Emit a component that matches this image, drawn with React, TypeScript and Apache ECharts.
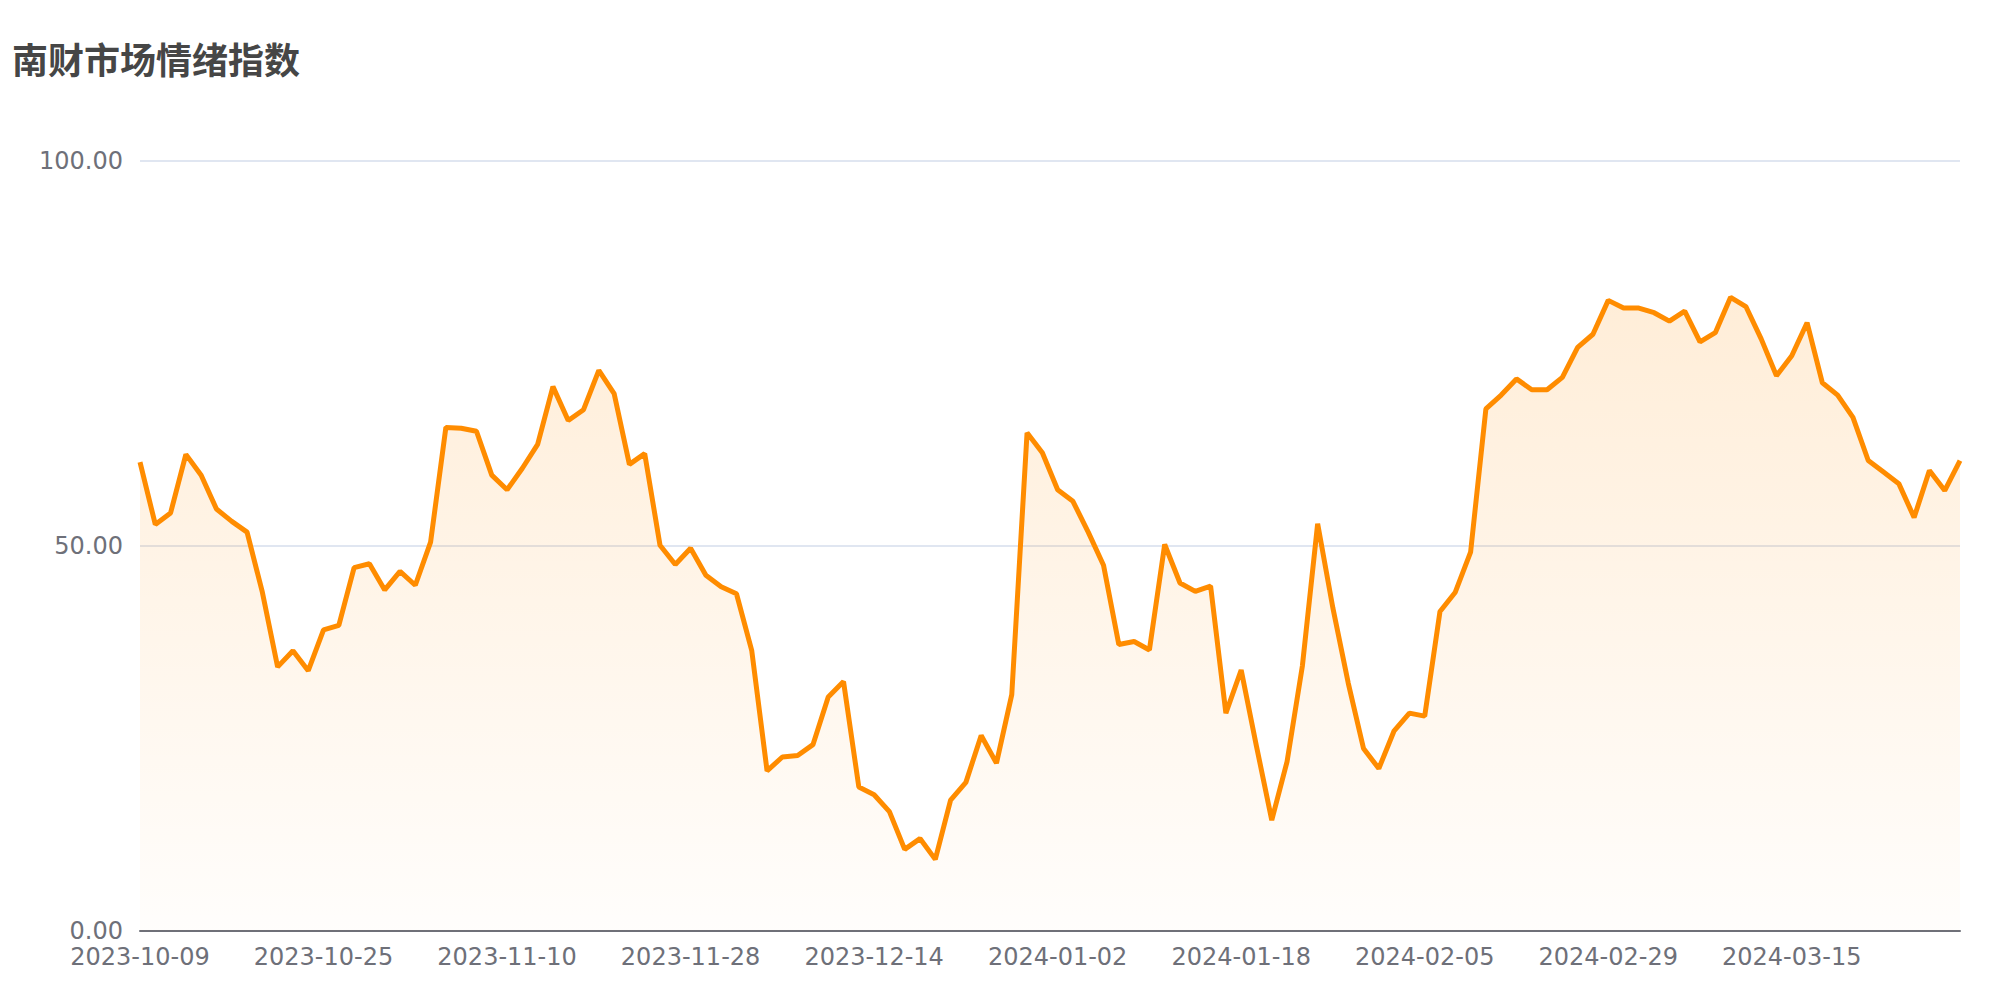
import React, { useEffect, useRef } from "react";
import * as echarts from "echarts";

const TITLE = "南财市场情绪指数";

const dates: string[] = [
  "2023-10-09", "2023-10-10", "2023-10-11", "2023-10-12", "2023-10-13", "2023-10-16", "2023-10-17", "2023-10-18",
  "2023-10-19", "2023-10-20", "2023-10-23", "2023-10-24", "2023-10-25", "2023-10-26", "2023-10-27", "2023-10-30",
  "2023-10-31", "2023-11-01", "2023-11-02", "2023-11-03", "2023-11-06", "2023-11-07", "2023-11-08", "2023-11-09",
  "2023-11-10", "2023-11-13", "2023-11-14", "2023-11-15", "2023-11-16", "2023-11-17", "2023-11-20", "2023-11-21",
  "2023-11-22", "2023-11-23", "2023-11-24", "2023-11-27", "2023-11-28", "2023-11-29", "2023-11-30", "2023-12-01",
  "2023-12-04", "2023-12-05", "2023-12-06", "2023-12-07", "2023-12-08", "2023-12-11", "2023-12-12", "2023-12-13",
  "2023-12-14", "2023-12-15", "2023-12-18", "2023-12-19", "2023-12-20", "2023-12-21", "2023-12-22", "2023-12-25",
  "2023-12-26", "2023-12-27", "2023-12-28", "2023-12-29", "2024-01-02", "2024-01-03", "2024-01-04", "2024-01-05",
  "2024-01-08", "2024-01-09", "2024-01-10", "2024-01-11", "2024-01-12", "2024-01-15", "2024-01-16", "2024-01-17",
  "2024-01-18", "2024-01-19", "2024-01-22", "2024-01-23", "2024-01-24", "2024-01-25", "2024-01-26", "2024-01-29",
  "2024-01-30", "2024-01-31", "2024-02-01", "2024-02-02", "2024-02-05", "2024-02-06", "2024-02-07", "2024-02-08",
  "2024-02-19", "2024-02-20", "2024-02-21", "2024-02-22", "2024-02-23", "2024-02-26", "2024-02-27", "2024-02-28",
  "2024-02-29", "2024-03-01", "2024-03-02", "2024-03-04", "2024-03-05", "2024-03-06", "2024-03-07", "2024-03-08",
  "2024-03-11", "2024-03-12", "2024-03-13", "2024-03-14", "2024-03-15", "2024-03-18", "2024-03-19", "2024-03-20",
  "2024-03-21", "2024-03-22", "2024-03-25", "2024-03-26", "2024-03-27", "2024-03-28", "2024-03-29", "2024-04-01",
];

const sentiment: number[] = [
  60.9, 52.8, 54.3, 61.9, 59.2, 54.8, 53.2, 51.8, 44.0, 34.3,
  36.4, 33.8, 39.1, 39.7, 47.2, 47.7, 44.3, 46.7, 44.9, 50.5,
  65.4, 65.3, 64.9, 59.2, 57.3, 60.1, 63.2, 70.7, 66.3, 67.7,
  72.8, 69.8, 60.6, 62.0, 50.1, 47.6, 49.7, 46.2, 44.7, 43.8,
  36.4, 20.8, 22.6, 22.8, 24.2, 30.4, 32.4, 18.7, 17.7, 15.5,
  10.6, 12.0, 9.3, 17.0, 19.3, 25.4, 21.8, 30.7, 64.7, 62.1,
  57.3, 55.8, 51.8, 47.5, 37.2, 37.6, 36.5, 50.2, 45.2, 44.1,
  44.8, 28.3, 33.9, 24.0, 14.4, 22.0, 34.4, 52.9, 41.9, 32.2,
  23.7, 21.1, 26.0, 28.3, 27.9, 41.5, 44.0, 49.2, 67.8, 69.6,
  71.7, 70.3, 70.3, 71.9, 75.8, 77.5, 81.9, 80.9, 80.9, 80.3,
  79.2, 80.5, 76.5, 77.7, 82.3, 81.1, 76.9, 72.1, 74.7, 79.0,
  71.2, 69.6, 66.7, 61.1, 59.6, 58.1, 53.7, 59.8, 57.2, 61.1,
];

const Y_MIN = 0;
const Y_MAX = 100;
const Y_INTERVAL = 50;

const FONT = "'DejaVu Sans', 'Noto Sans CJK SC', sans-serif";

export default function App() {
  const ref = useRef<HTMLDivElement>(null);

  useEffect(() => {
    document.body.style.margin = "0";
    if (!ref.current) return;
    const chart = echarts.init(ref.current, undefined, { renderer: "svg" });
    chart.setOption({
      animation: false,
      backgroundColor: "#ffffff",
      title: {
        text: TITLE,
        left: 7,
        top: 38,
        textStyle: {
          fontSize: 36,
          fontWeight: "bold",
          color: "#464646",
          fontFamily: FONT,
        },
      },
      grid: { left: 140, right: 40, top: 161, bottom: 69, containLabel: false },
      xAxis: {
        type: "category",
        data: dates,
        boundaryGap: false,
        axisLine: { show: true, lineStyle: { color: "#6E7079", width: 2 } },
        axisTick: { show: false },
        axisLabel: {
          interval: 11,
          fontSize: 24,
          color: "#6E7079",
          margin: 14,
          fontFamily: FONT,
        },
      },
      yAxis: {
        type: "value",
        min: Y_MIN,
        max: Y_MAX,
        interval: Y_INTERVAL,
        axisLine: { show: false },
        axisTick: { show: false },
        splitLine: { lineStyle: { color: "#E0E6F1", width: 2 } },
        axisLabel: {
          fontSize: 24,
          color: "#6E7079",
          margin: 17,
          fontFamily: FONT,
          formatter: (v: number) => v.toFixed(2),
        },
      },
      series: [
        {
          type: "line",
          data: sentiment,
          showSymbol: false,
          smooth: false,
          lineStyle: { color: "#FF8C00", width: 5 },
          itemStyle: { color: "#FF8C00" },
          areaStyle: {
            color: new echarts.graphic.LinearGradient(0, 0, 0, 1, [
              { offset: 0, color: "rgba(255,140,0,0.22)" },
              { offset: 1, color: "rgba(255,140,0,0.02)" },
            ]),
          },
        },
      ],
    });
    return () => chart.dispose();
  }, []);

  return <div ref={ref} style={{ width: "2000px", height: "1000px" }} />;
}
